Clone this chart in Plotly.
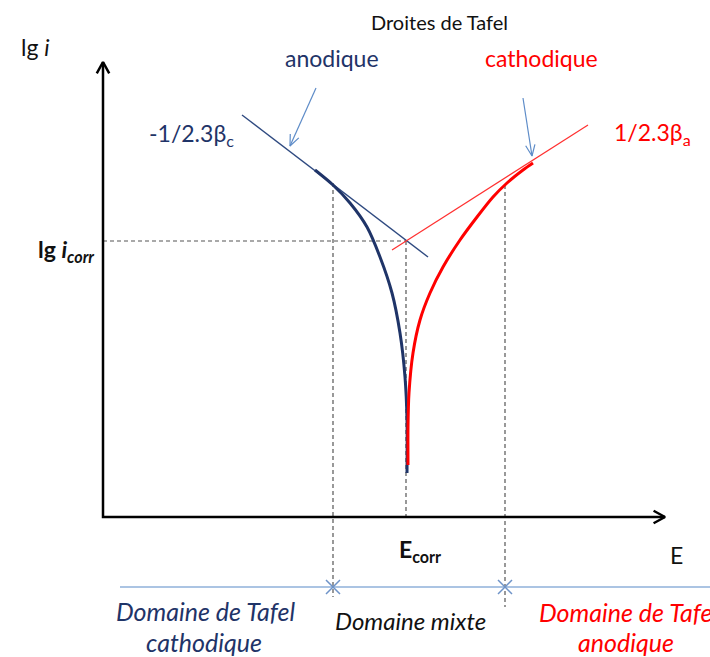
import math
import plotly.graph_objects as go

# ---- data (diagram units: 1 unit = 100 px, origin at axis corner) ----
E_corr = 3.03
lgi_corr = 2.76
E_tafel_c = 2.30   # limit Tafel cathodic / mixed
E_tafel_a = 4.02   # limit mixed / Tafel anodic
E_axis_end = 5.62
lgi_axis_end = 4.55

# left (navy) branch
E_left = [2.12, 2.30, 2.47, 2.64, 2.77, 2.89, 2.97, 3.02, 3.04, 3.04]
lgi_left = [3.47, 3.32, 3.14, 2.90, 2.60, 2.24, 1.84, 1.40, 0.97, 0.44]
# right (red) branch
E_right = [3.05, 3.05, 3.06, 3.10, 3.17, 3.27, 3.40, 3.57, 3.74, 3.90, 4.04, 4.20, 4.30]
lgi_right = [0.52, 0.90, 1.24, 1.64, 1.97, 2.24, 2.50, 2.77, 3.00, 3.20, 3.34, 3.47, 3.54]
# Tafel straight lines
E_tan_left = [1.39, 3.25]
lgi_tan_left = [4.02, 2.60]
E_tan_right = [2.89, 4.85]
lgi_tan_right = [2.67, 3.92]
# domain ruler
lgi_ruler = -0.70
E_ruler = [0.17, 6.07]
lgi_left_dash = [3.34, -0.80]
lgi_right_dash = [3.32, -0.90]
# label pointer arrows (tail, head)
arrow_ano = [(2.13, 4.29), (1.87, 3.71)]
arrow_cat = [(4.20, 4.19), (4.29, 3.61)]

NAVY = "#1F3468"
NAVY_T = "#2F4A80"
RED = "#FF0000"
LBLUE = "#5E8CC8"
RULER = "#8FB0DA"
GRAY = "#555555"
FONT = "Lato"

fig = go.Figure()

def line(x, y, color, width, dash=None, shape="linear"):
    fig.add_trace(go.Scatter(x=x, y=y, mode="lines", hoverinfo="skip",
                             line=dict(color=color, width=width, dash=dash, shape=shape,
                                       smoothing=0.8)))

def chevron(tail, head, color, width, size=0.13, half=0.55):
    dx, dy = head[0] - tail[0], head[1] - tail[1]
    ang = math.atan2(dy, dx)
    pts_x, pts_y = [], []
    for s in (1, -1):
        a = ang + math.pi + s * half
        pts_x.append(head[0] + size * math.cos(a))
        pts_y.append(head[1] + size * math.sin(a))
    line([pts_x[0], head[0], pts_x[1]], [pts_y[0], head[1], pts_y[1]], color, width)

# dashed guides
line([0, E_corr], [lgi_corr, lgi_corr], GRAY, 1.2, "4px,3px")
line([E_corr, E_corr], [lgi_corr, 0], GRAY, 1.2, "4px,3px")
line([E_tafel_c, E_tafel_c], lgi_left_dash, GRAY, 1.2, "4px,3px")
line([E_tafel_a, E_tafel_a], lgi_right_dash, GRAY, 1.2, "4px,3px")

# tangents
line(E_tan_left, lgi_tan_left, NAVY_T, 1.4)
line(E_tan_right, lgi_tan_right, "#FF3030", 1.2)

# polarization branches
line(E_left, lgi_left, NAVY, 3, shape="spline")
line(E_right, lgi_right, RED, 3, shape="spline")

# axes
line([0, 0, E_axis_end], [lgi_axis_end, 0, 0], "black", 2.5)
chevron((0, 0), (0, lgi_axis_end), "black", 2.5, 0.13, 0.5)
chevron((0, 0), (E_axis_end, 0), "black", 2.5, 0.13, 0.5)

# ruler with markers
line(E_ruler, [lgi_ruler, lgi_ruler], RULER, 1.5)
fig.add_trace(go.Scatter(x=[E_tafel_c, E_tafel_a], y=[lgi_ruler, lgi_ruler], mode="markers",
                         hoverinfo="skip",
                         marker=dict(symbol="x-thin", size=14, line=dict(color="#6E93C8", width=1.5))))

# pointer arrows
for tail, head in (arrow_ano, arrow_cat):
    line([tail[0], head[0]], [tail[1], head[1]], LBLUE, 1.2)
    chevron(tail, head, LBLUE, 1.2, 0.12, 0.4)

def txt(x, y, s, color="black", size=22, italic=False, bold=False, xanchor="center"):
    if bold:
        s = "<b>" + s + "</b>"
    if italic:
        s = "<i>" + s + "</i>"
    fig.add_annotation(x=x / 710, y=1 - y / 657, xref="paper", yref="paper", text=s,
                       showarrow=False, xanchor=xanchor, yanchor="middle",
                       font=dict(family=FONT, size=size, color=color))

txt(440, 22, "Droites de Tafel", "#111111", 20)
txt(332, 58, "anodique", NAVY, 23)
txt(541, 58, "cathodique", RED, 23)
txt(35, 47, "lg <i>i</i>", "#111111", 23)
txt(192, 135, "-1/2.3β<sub>c</sub>", NAVY, 23)
txt(652, 133, "1/2.3β<sub>a</sub>", RED, 23)
txt(66, 250, "lg <i>i<sub>corr</sub></i>", "#111111", 23, bold=True)
txt(420, 550, "E<sub>corr</sub>", "#111111", 23, bold=True)
txt(676, 555, "E", "#111111", 23)
txt(205, 611, "Domaine de Tafel", NAVY, 25, italic=True)
txt(204, 642, "cathodique", NAVY, 25, italic=True)
txt(410, 620, "Domaine mixte", "#111111", 24, italic=True)
txt(537, 612, "Domaine de Tafel", RED, 25, italic=True, xanchor="left")
txt(626, 642, "anodique", RED, 25, italic=True)

fig.update_layout(
    width=710, height=657, margin=dict(l=0, r=0, t=0, b=0),
    paper_bgcolor="white", plot_bgcolor="white", showlegend=False,
    xaxis=dict(range=[-1.03, 6.07], visible=False, fixedrange=True),
    yaxis=dict(range=[-1.40, 5.17], visible=False, fixedrange=True),
)
fig.write_html("out.html")
